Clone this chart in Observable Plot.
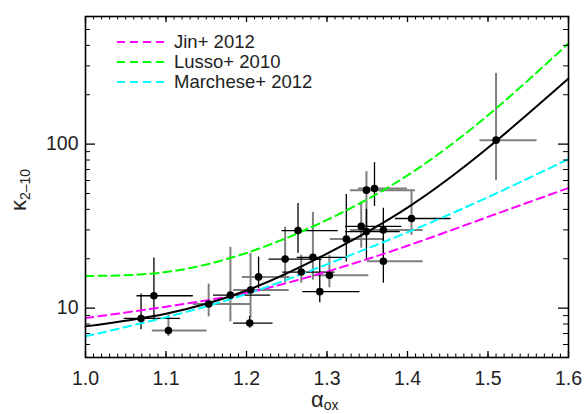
<!DOCTYPE html>
<html>
<head>
<meta charset="utf-8">
<script src="https://cdn.jsdelivr.net/npm/d3@7"></script>
<script src="https://cdn.jsdelivr.net/npm/@observablehq/plot@0.6"></script>
<style>
  html, body { margin: 0; padding: 0; background: #fff; }
  #chart { width: 585px; height: 414px; overflow: hidden; }
</style>
</head>
<body>
<div id="chart"></div>
<script>
// ---- data ----
const alpha    = [1.069, 1.085, 1.103, 1.153, 1.180, 1.205, 1.204, 1.215, 1.248, 1.264, 1.268, 1.2825, 1.291, 1.303, 1.324, 1.3425, 1.349, 1.359, 1.349, 1.370, 1.370, 1.405, 1.510];
const kappa    = [8.65, 11.9, 7.31, 10.6, 12.0, 12.9, 8.11, 15.5, 19.9, 29.7, 16.6, 20.4, 12.6, 15.85, 26.4, 31.5, 52.4, 53.6, 29.3, 29.9, 19.3, 35.2, 105.7];
const alphaLo  = [1.048, 1.064, 1.083, 1.134, 1.159, 1.184, 1.184, 1.195, 1.228, 1.244, 1.245, 1.263, 1.270, 1.283, 1.304, 1.323, 1.329, 1.339, 1.323, 1.329, 1.350, 1.385, 1.490];
const alphaHi  = [1.118, 1.134, 1.151, 1.205, 1.230, 1.253, 1.233, 1.254, 1.294, 1.314, 1.310, 1.325, 1.341, 1.352, 1.370, 1.393, 1.410, 1.400, 1.391, 1.4195, 1.4195, 1.454, 1.561];
const kappaLo  = [7.39, 8.26, 6.70, 8.85, 8.26, 8.73, 7.55, 13.1, 14.2, 21.6, 14.2, 14.8, 10.8, 13.3, 19.1, 23.2, 27.0, 41.7, 19.6, 21.6, 14.2, 27.8, 60.0];
const kappaHi  = [12.2, 20.2, 9.1, 14.0, 23.5, 21.6, 8.9, 20.5, 31.1, 43.4, 21.0, 38.4, 20.5, 21.0, 49.3, 44.1, 67.9, 77.1, 40.0, 40.6, 27.0, 52.1, 270];
// error-bar tone per point: "k" = black bar, "g" = grey bar
const xTone    = ["k","k","g","g","k","g","k","g","k","k","k","k","k","g","g","k","g","g","k","g","g","k","g"];
const yTone    = ["k","k","g","g","g","g","k","k","g","k","g","g","k","g","k","g","g","k","k","k","k","g","g"];

// relations
const alphaGrid     = [1.0, 1.1, 1.2, 1.3, 1.4, 1.5, 1.6];
const fitKappa      = [7.74, 9.25, 12.8, 21.5, 41.0, 95.0, 251];
const jinKappa      = [8.69, 10.2, 12.4, 16.7, 24.0, 36.0, 54.0];
const lussoKappa    = [15.7, 16.6, 21.7, 34.5, 64.5, 150, 411];
const marcheseKappa = [6.73, 8.8, 12.2, 18.5, 29.0, 47.5, 81.0];

const seriesNames  = ["Jin+ 2012", "Lusso+ 2010", "Marchese+ 2012"];
const seriesColors = ["#ff00ff", "#00ff00", "#00ffff"];

const xTickLabels = [1.0, 1.1, 1.2, 1.3, 1.4, 1.5, 1.6];
const xMinorTicks = d3.range(100, 161).map(d => d / 100);
const yTickLabels = [10, 100];
const yMinorTicks = [5, 6, 7, 8, 9, 20, 30, 40, 50, 60, 70, 80, 90, 200, 300, 400, 500];

// ---- build tables ----
const pts = alpha.map((a, i) => ({
  a, k: kappa[i], alo: alphaLo[i], ahi: alphaHi[i], klo: kappaLo[i], khi: kappaHi[i],
  xt: xTone[i], yt: yTone[i]
}));
const curve = (vals) => alphaGrid.map((a, i) => ({a, k: vals[i]}));
const fit = curve(fitKappa);
const models = [jinKappa, lussoKappa, marcheseKappa].map(curve);

const W = 585, H = 414, mL = 85, mR = 17, mT = 16, mB = 57;
const fw = W - mL - mR, fh = H - mT - mB;
const FONT = "Liberation Sans, Arial, sans-serif";
const GREY = "#7f7f7f";
const dash = "8,5";

const marks = [];
// error bars
marks.push(Plot.ruleY(pts.filter(d => d.xt === "g"), {y: "k", x1: "alo", x2: "ahi", stroke: GREY, strokeWidth: 2}));
marks.push(Plot.ruleX(pts.filter(d => d.yt === "g"), {x: "a", y1: "klo", y2: "khi", stroke: GREY, strokeWidth: 2}));
marks.push(Plot.ruleY(pts.filter(d => d.xt === "k"), {y: "k", x1: "alo", x2: "ahi", stroke: "#000", strokeWidth: 1.3}));
marks.push(Plot.ruleX(pts.filter(d => d.yt === "k"), {x: "a", y1: "klo", y2: "khi", stroke: "#000", strokeWidth: 1.3}));
// model curves
models.forEach((m, i) => {
  marks.push(Plot.line(m, {x: "a", y: "k", curve: "natural", stroke: seriesColors[i], strokeWidth: 2, strokeDasharray: dash}));
});
marks.push(Plot.line(fit, {x: "a", y: "k", curve: "natural", stroke: "#000", strokeWidth: 2}));
// points
marks.push(Plot.dot(pts, {x: "a", y: "k", r: 3.8, fill: "#000", stroke: "none"}));
// inward ticks (bottom/top, left/right)
marks.push(Plot.ruleX(xTickLabels, {insetTop: fh - 6, stroke: "#000", strokeWidth: 1.3}));
marks.push(Plot.ruleX(xTickLabels, {insetBottom: fh - 6, stroke: "#000", strokeWidth: 1.3}));
marks.push(Plot.ruleX(xMinorTicks, {insetTop: fh - 3.5, stroke: "#000", strokeWidth: 1}));
marks.push(Plot.ruleX(xMinorTicks, {insetBottom: fh - 3.5, stroke: "#000", strokeWidth: 1}));
marks.push(Plot.ruleY(yTickLabels, {insetRight: fw - 10, stroke: "#000", strokeWidth: 1.3}));
marks.push(Plot.ruleY(yTickLabels, {insetLeft: fw - 10, stroke: "#000", strokeWidth: 1.3}));
marks.push(Plot.ruleY(yMinorTicks, {insetRight: fw - 5, stroke: "#000", strokeWidth: 1}));
marks.push(Plot.ruleY(yMinorTicks, {insetLeft: fw - 5, stroke: "#000", strokeWidth: 1}));
// tick labels
marks.push(Plot.text(xTickLabels, {x: d => d, frameAnchor: "bottom", lineAnchor: "top", dy: 14, text: d => d.toFixed(1), fontSize: 19.5, fill: "#222"}));
marks.push(Plot.text(yTickLabels, {y: d => d, frameAnchor: "left", textAnchor: "end", dx: -7, text: d => String(d), fontSize: 19.5, fill: "#222"}));
marks.push(Plot.frame({stroke: "#000", strokeWidth: 1.6}));

const svg = Plot.plot({
  width: W, height: H,
  marginLeft: mL, marginRight: mR, marginTop: mT, marginBottom: mB,
  style: {fontFamily: FONT, background: "#fff"},
  x: {domain: [1.0, 1.6], axis: null},
  y: {type: "log", domain: [5, 600], axis: null},
  marks
});

const s = d3.select(svg);
// legend
const lg = s.append("g").attr("font-family", FONT).attr("font-size", 18.5).attr("fill", "#222").attr("text-anchor", "start");
seriesNames.forEach((name, i) => {
  const y = 42 + i * 20;
  lg.append("line").attr("x1", 117).attr("x2", 166).attr("y1", y).attr("y2", y)
    .attr("stroke", seriesColors[i]).attr("stroke-width", 2).attr("stroke-dasharray", dash);
  lg.append("text").attr("x", 174).attr("y", y).attr("dy", "0.35em").text(name);
});
// axis titles
const yl = s.append("text").attr("font-family", FONT).attr("fill", "#222")
  .attr("transform", "translate(26,211) rotate(-90)").attr("text-anchor", "start");
yl.append("tspan").attr("font-size", 22).text("κ");
yl.append("tspan").attr("font-size", 14).attr("dy", 4).text("2–10");
const xl = s.append("text").attr("font-family", FONT).attr("fill", "#222")
  .attr("x", 311).attr("y", 407).attr("text-anchor", "start");
xl.append("tspan").attr("font-size", 22).text("α");
xl.append("tspan").attr("font-size", 14).attr("dy", 3).text("ox");

document.getElementById("chart").appendChild(svg);
</script>
</body>
</html>
